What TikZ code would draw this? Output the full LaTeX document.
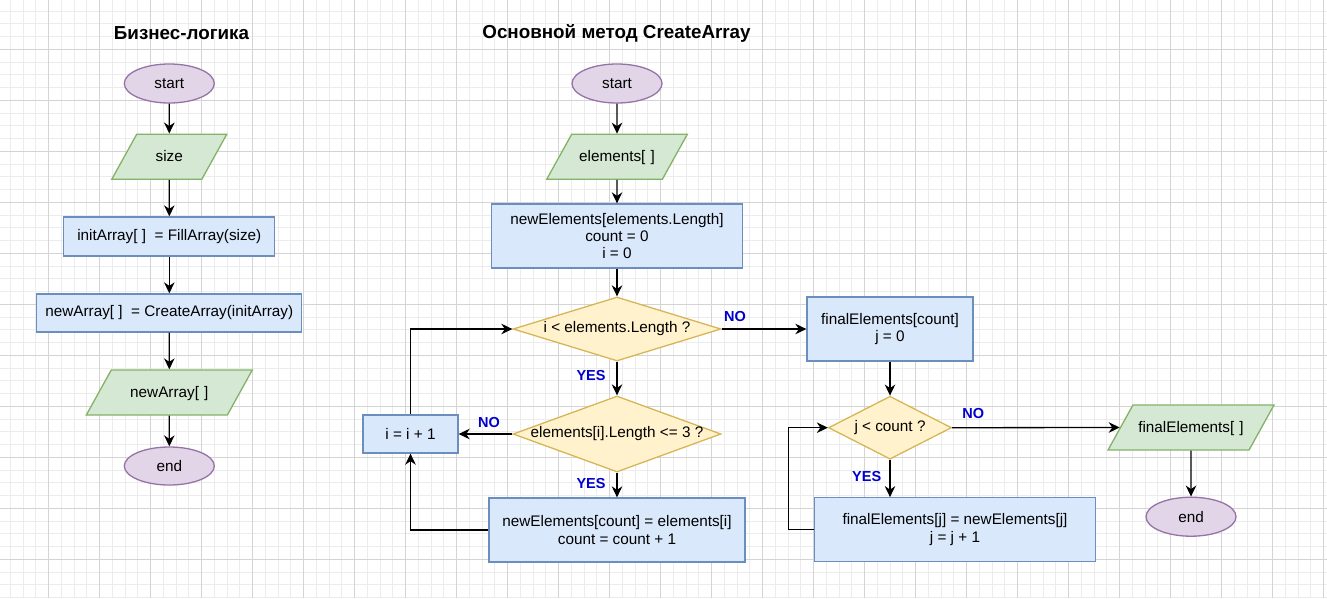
\documentclass[tikz,border=0pt]{standalone}
\usepackage{fontspec}
\setmainfont{Liberation Sans}
\usetikzlibrary{shapes.geometric, arrows.meta}
\definecolor{purpfill}{HTML}{E1D5E7}
\definecolor{purpline}{HTML}{9673A6}
\definecolor{greenfill}{HTML}{D5E8D4}
\definecolor{greenline}{HTML}{82B366}
\definecolor{bluefill}{HTML}{DAE8FC}
\definecolor{blueline}{HTML}{6C8EBF}
\definecolor{yelfill}{HTML}{FFF2CC}
\definecolor{yelline}{HTML}{D6B656}
\definecolor{lblblue}{HTML}{0000CC}
\definecolor{gridmajor}{HTML}{D4D4D4}
\definecolor{gridminor}{HTML}{ECECEC}
\begin{document}
\begin{tikzpicture}[x=1pt, y=-1pt,
  base/.style={draw, line width=1.3pt, font=\fontsize{15.3}{17.3}\selectfont, inner sep=0pt, align=center},
  term/.style={base, ellipse, fill=purpfill, draw=purpline, minimum width=90pt, minimum height=39pt},
  io/.style={base, trapezium, trapezium left angle=61, trapezium right angle=119, fill=greenfill, draw=greenline, text width=#1, text height=27pt, text depth=18pt},
  proc/.style={base, rectangle, fill=bluefill, draw=blueline},
  dec/.style={base, diamond, fill=yelfill, draw=yelline},
  arr/.style={line width=1.3pt, -{Stealth[length=11pt, width=10.5pt, inset=3.5pt]}},
  lbl/.style={font=\fontsize{14.5}{16}\selectfont\bfseries, text=lblblue, inner sep=0pt},
  title/.style={font=\fontsize{18.8}{20}\selectfont\bfseries, inner sep=0pt},
  minorline/.style={draw=gridminor, line width=1pt},
  majorline/.style={draw=gridmajor, line width=1pt}]
\useasboundingbox (0,0) rectangle (1327,598);
\fill[white] (0,0) rectangle (1327,598);
\begin{scope}
\clip (0,0) rectangle (1327,598);
\foreach \k in {0,...,104} \draw[minorline] ({-2.5+12.75*\k},0) -- ({-2.5+12.75*\k},598);
\foreach \k in {0,...,47} \draw[minorline] (0,{-1.7+12.75*\k}) -- (1327,{-1.7+12.75*\k});
\foreach \k in {0,...,26} \draw[majorline] ({-2.5+51*\k},0) -- ({-2.5+51*\k},598);
\foreach \k in {0,...,11} \draw[majorline] (0,{-1.7+51*\k}) -- (1327,{-1.7+51*\k});
\end{scope}

% titles
\node[title] (t1) at (181.5,33) {Бизнес-логика};
\node[title] (t2) at (616.5,33) {Основной метод CreateArray};

% left column
\node[term] (s1) at (169.3,83.5) {start};
\node[io=65.1pt] (p1) at (169.3,156.7) {size};
\node[proc, minimum width=211pt, minimum height=39pt] (r1) at (169.3,236.5) {initArray[ ]\ \ = FillArray(size)};
\node[proc, minimum width=265pt, minimum height=38pt] (r2) at (169.3,313) {newArray[ ]\ \ = CreateArray(initArray)};
\node[io=116.1pt] (p2) at (169.3,392.5) {newArray[ ]};
\node[term, minimum height=38pt] (e1) at (169.3,466) {end};

% middle column
\node[term] (s2) at (617,83.5) {start};
\node[io=90.7pt] (p3) at (617,156.8) {elements[ ]};
\node[proc, minimum width=251pt, minimum height=64pt] (r3) at (617,236) {newElements[elements.Length]\\count = 0\\i = 0};
\node[dec, minimum width=208pt, minimum height=64pt] (d1) at (617,329) {\makebox[0pt]{i < elements.Length ?}};
\node[dec, minimum width=208pt, minimum height=76pt] (d2) at (617,434) {\makebox[0pt]{elements[i].Length <= 3 ?}};
\node[proc, minimum width=95pt, minimum height=38pt] (r4) at (410.5,434) {i = i + 1};
\node[proc, minimum width=256pt, minimum height=64pt] (r5) at (617,530) {newElements[count] = elements[i]\\count = count + 1};

% right column
\node[proc, minimum width=166pt, minimum height=64pt] (r6) at (890,329) {finalElements[count]\\j = 0};
\node[dec, minimum width=123pt, minimum height=63pt] (d3) at (890,427.7) {\makebox[0pt]{j < count ?}};
\node[proc, minimum width=281pt, minimum height=63.5pt] (r7) at (955,529.5) {finalElements[j] = newElements[j]\\j = j + 1};
\node[io=116.1pt] (p4) at (1191,427.5) {finalElements[ ]};
\node[term] (e2) at (1191,516.7) {end};

% connectors left
\draw[arr] (s1.south) -- (p1.north);
\draw[arr] (p1.south) -- (r1.north);
\draw[arr] (r1.south) -- (r2.north);
\draw[arr] (r2.south) -- (p2.north);
\draw[arr] (p2.south) -- (e1.north);

% connectors middle
\draw[arr] (s2.south) -- (p3.north);
\draw[arr] (p3.south) -- (r3.north);
\draw[arr] (r3.south) -- (d1.north);
\draw[arr] (d1.south) -- (d2.north);
\draw[arr] (d2.south) -- (r5.north);
\draw[arr] (d2.west) -- (r4.east);
\draw[arr] (r4.north) |- (d1.west);
\draw[arr] (r5.west) -| (r4.south);
\draw[arr] (d1.east) -- (r6.west);

% connectors right
\draw[arr] (r6.south) -- (d3.north);
\draw[arr] (d3.south) -- (d3.south |- r7.north);
\draw[arr] (d3.east) -- (p4.west);
\draw[arr] (p4.south) -- (e2.north);
\draw[arr] (r7.west) -- ++(-25.2,0) |- (d3.west);

% labels
\node[lbl] (n1) at (735,316.7) {NO};
\node[lbl] (n2) at (489,422) {NO};
\node[lbl] (y1) at (591,375.5) {YES};
\node[lbl] (y2) at (591,483) {YES};
\node[lbl] (n3) at (973.3,413.8) {NO};
\node[lbl] (y3) at (866.7,476) {YES};
\end{tikzpicture}
\end{document}
